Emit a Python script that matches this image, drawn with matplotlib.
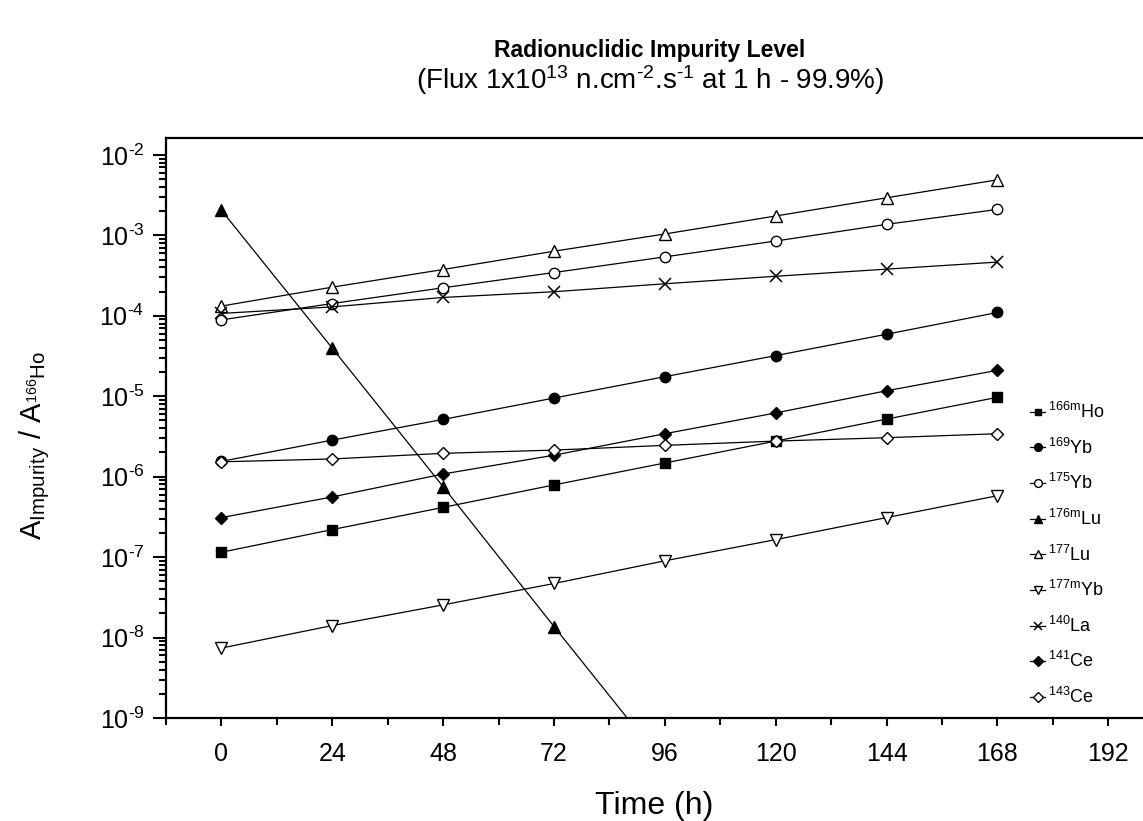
import matplotlib
matplotlib.use('Agg')
import matplotlib.pyplot as plt
from matplotlib.ticker import (FixedLocator, MultipleLocator, LogLocator,
                               NullFormatter, FuncFormatter)
import numpy as np

plt.rcParams['font.family'] = ['Liberation Sans', 'DejaVu Sans']
plt.rcParams['mathtext.fontset'] = 'custom'
plt.rcParams['mathtext.rm'] = 'Liberation Sans'
plt.rcParams['mathtext.it'] = 'Liberation Sans'
plt.rcParams['mathtext.bf'] = 'Liberation Sans:bold'
plt.rcParams['mathtext.default'] = 'regular'

HYPH = '\u2010'

# time after end of irradiation (h)
time_h = [0, 24, 48, 72, 96, 120, 144, 168]
time_lu176m = [0, 24, 48, 72, 96]

# activity ratios A_impurity / A_166Ho
ho166m = [1.15e-7, 2.2e-7, 4.15e-7, 7.9e-7, 1.48e-6, 2.77e-6, 5.2e-6, 9.7e-6]
yb169 = [1.55e-6, 2.85e-6, 5.15e-6, 9.5e-6, 1.75e-5, 3.2e-5, 5.9e-5, 1.1e-4]
yb175 = [8.9e-5, 1.42e-4, 2.23e-4, 3.45e-4, 5.4e-4, 8.5e-4, 1.37e-3, 2.1e-3]
lu176m = [2.05e-3, 3.95e-5, 7.5e-7, 1.37e-8, 2.6e-10]
lu177 = [1.32e-4, 2.27e-4, 3.76e-4, 6.35e-4, 1.04e-3, 1.74e-3, 2.93e-3, 4.9e-3]
yb177m = [7.4e-9, 1.41e-8, 2.55e-8, 4.7e-8, 9.0e-8, 1.65e-7, 3.1e-7, 5.8e-7]
la140 = [1.07e-4, 1.29e-4, 1.69e-4, 1.99e-4, 2.5e-4, 3.1e-4, 3.8e-4, 4.65e-4]
ce141 = [3.1e-7, 5.6e-7, 1.08e-6, 1.85e-6, 3.42e-6, 6.2e-6, 1.17e-5, 2.1e-5]
ce143 = [1.53e-6, 1.66e-6, 1.95e-6, 2.14e-6, 2.45e-6, 2.77e-6, 3.05e-6, 3.42e-6]

labels = [r'$^{166m}$Ho', r'$^{169}$Yb', r'$^{175}$Yb', r'$^{176m}$Lu', r'$^{177}$Lu',
          r'$^{177m}$Yb', r'$^{140}$La', r'$^{141}$Ce', r'$^{143}$Ce']
x_ticks = [0, 24, 48, 72, 96, 120, 144, 168, 192]


def log_label(v, pos):
    e = int(round(np.log10(v)))
    sign = HYPH if e < 0 else ''
    return '10$^{%s%d}$' % (sign, abs(e))


fig = plt.figure(figsize=(11.43, 8.21), dpi=100)
ax = fig.add_axes([166 / 1143, 1 - 718 / 821, 1 - 166 / 1143, (718 - 138) / 821])

series = [
    (time_h, ho166m, dict(marker='s', ms=6.5, mfc='black')),
    (time_h, yb169, dict(marker='o', ms=7.5, mfc='black')),
    (time_h, yb175, dict(marker='o', ms=7.5, mfc='white')),
    (time_lu176m, lu176m, dict(marker='^', ms=8, mfc='black')),
    (time_h, lu177, dict(marker='^', ms=8, mfc='white')),
    (time_h, yb177m, dict(marker='v', ms=8, mfc='white')),
    (time_h, la140, dict(marker='x', ms=8, mew=1.1)),
    (time_h, ce141, dict(marker='D', ms=6.5, mfc='black')),
    (time_h, ce143, dict(marker='D', ms=6.5, mfc='white')),
]
for (t, v, style), lab in zip(series, labels):
    ax.plot(t, v, color='black', lw=0.9, mec='black', label=lab, **style)

ax.set_yscale('log')
ax.set_ylim(1e-9, 10 ** -1.79)
ax.set_xlim(-12, 199.5)

ax.xaxis.set_major_locator(FixedLocator(x_ticks))
ax.xaxis.set_minor_locator(MultipleLocator(12))
ax.yaxis.set_major_locator(LogLocator(base=10, numticks=20))
ax.yaxis.set_major_formatter(FuncFormatter(log_label))
ax.yaxis.set_minor_locator(LogLocator(base=10, subs=range(2, 10), numticks=20))
ax.yaxis.set_minor_formatter(NullFormatter())

for s in ['left', 'bottom', 'top']:
    ax.spines[s].set_linewidth(1.6)
ax.spines['right'].set_visible(False)

ax.tick_params(axis='both', which='both', direction='out', width=1.5,
               top=False, right=False, labelsize=18)
ax.tick_params(axis='y', which='major', length=9.5, pad=6)
ax.tick_params(axis='y', which='minor', length=5)
ax.tick_params(axis='x', which='major', length=6, pad=11)
ax.tick_params(axis='x', which='minor', length=5)

ax.set_xlabel('Time (h)', fontsize=23)
ax.set_ylabel(r'A$_{Impurity}$ / A$_{^{166}Ho}$', fontsize=21)
ax.xaxis.set_label_coords(0.5, -0.125)
ax.yaxis.set_label_coords(-0.117, 0.47)

ax.legend(loc='upper left', bbox_to_anchor=(1030 / 1143, 1 - 402 / 821),
          bbox_transform=fig.transFigure, frameon=False, fontsize=13,
          handlelength=0.85, handletextpad=0.15, labelspacing=0.86,
          borderpad=0, borderaxespad=0, markerscale=0.75)

fig.text(650 / 1143, 1 - 50 / 821, 'Radionuclidic Impurity Level',
         ha='center', va='center', fontsize=16.5, fontweight='bold')
fig.text(650 / 1143, 1 - 80 / 821,
         '(Flux 1x10$^{13}$ n.cm$^{%s2}$.s$^{%s1}$ at 1 h - 99.9%%)' % (HYPH, HYPH),
         ha='center', va='center', fontsize=20)

fig.savefig('out.png', dpi=100)
